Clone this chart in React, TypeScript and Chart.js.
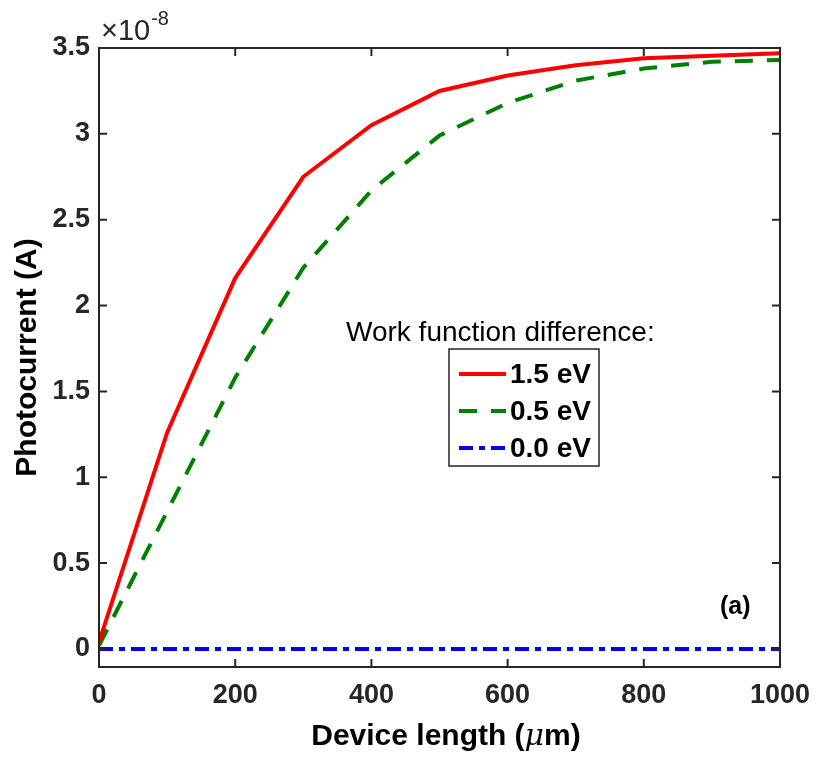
import React, { useEffect, useRef } from "react";
import { Chart, registerables } from "chart.js";

Chart.register(...registerables);

const deviceLength = [0, 100, 200, 300, 400, 500, 600, 700, 800, 900, 1000];
const current15 = [0.04, 1.26, 2.16, 2.75, 3.05, 3.25, 3.34, 3.40, 3.44, 3.455, 3.47];
const current05 = [0.02, 0.80, 1.58, 2.22, 2.67, 2.99, 3.18, 3.31, 3.38, 3.42, 3.43];
const current00 = [0, 0, 0, 0, 0, 0, 0, 0, 0, 0, 0];
const seriesLabels = ["1.5 eV", "0.5 eV", "0.0 eV"];
const yTicks = [0, 0.5, 1, 1.5, 2, 2.5, 3, 3.5];
const xTicks = [0, 200, 400, 600, 800, 1000];

const AXIS = "#262626";
const COLORS = ["#ff0000", "#008000", "#0000ff"];
const DASHES: number[][] = [[], [18, 14], [14, 6, 6, 6]];

const framePlugin = {
  id: "framePlugin",
  afterDraw(chart: any) {
    const { ctx, chartArea: a, scales } = chart;
    const xs = scales.x;
    const ys = scales.y;
    ctx.save();
    // frame
    ctx.strokeStyle = AXIS;
    ctx.lineWidth = 2;
    ctx.setLineDash([]);
    ctx.strokeRect(a.left, a.top, a.right - a.left, a.bottom - a.top);
    // inward ticks
    const tl = 8;
    ctx.beginPath();
    xTicks.forEach((v) => {
      const px = xs.getPixelForValue(v);
      ctx.moveTo(px, a.bottom);
      ctx.lineTo(px, a.bottom - tl);
      ctx.moveTo(px, a.top);
      ctx.lineTo(px, a.top + tl);
    });
    yTicks.forEach((v) => {
      const py = ys.getPixelForValue(v);
      ctx.moveTo(a.left, py);
      ctx.lineTo(a.left + tl, py);
      ctx.moveTo(a.right, py);
      ctx.lineTo(a.right - tl, py);
    });
    ctx.stroke();

    // exponent
    ctx.fillStyle = AXIS;
    ctx.textBaseline = "alphabetic";
    ctx.textAlign = "left";
    ctx.font = "29px 'Liberation Sans', Arial, sans-serif";
    ctx.fillText("\u00d710", 101, 40);
    const w10 = ctx.measureText("\u00d710").width;
    ctx.font = "20px 'Liberation Sans', Arial, sans-serif";
    ctx.fillText("-8", 101 + w10 + 1, 25);

    // y title
    ctx.save();
    ctx.translate(28, (a.top + a.bottom) / 2);
    ctx.rotate(-Math.PI / 2);
    ctx.textAlign = "center";
    ctx.textBaseline = "middle";
    ctx.fillStyle = "#000000";
    ctx.font = "bold 30px 'Liberation Sans', Arial, sans-serif";
    ctx.fillText("Photocurrent (A)", 0, 0);
    ctx.restore();

    // x title with italic mu
    ctx.fillStyle = "#000000";
    ctx.textBaseline = "alphabetic";
    const p1 = "Device length (";
    const p2 = "\u03bc";
    const p3 = "m)";
    const fb = "bold 30px 'Liberation Sans', Arial, sans-serif";
    const fi = "italic 30px 'DejaVu Serif', serif";
    ctx.font = fb;
    const w1 = ctx.measureText(p1).width;
    const w3 = ctx.measureText(p3).width;
    ctx.font = fi;
    const w2 = ctx.measureText(p2).width;
    const total = w1 + w2 + w3;
    const x0 = 446 - total / 2;
    const yb = 745;
    ctx.textAlign = "left";
    ctx.font = fb;
    ctx.fillText(p1, x0, yb);
    ctx.font = fi;
    ctx.fillText(p2, x0 + w1, yb);
    ctx.font = fb;
    ctx.fillText(p3, x0 + w1 + w2, yb);

    // (a) label
    ctx.fillStyle = "#000000";
    ctx.font = "bold 25px 'Liberation Sans', Arial, sans-serif";
    ctx.fillText("(a)", 720, 614);

    // legend
    ctx.font = "28px 'Liberation Sans', Arial, sans-serif";
    ctx.fillStyle = "#000000";
    ctx.textBaseline = "middle";
    ctx.fillText("Work function difference:", 346, 333);
    ctx.fillStyle = "#ffffff";
    ctx.fillRect(449, 349, 150, 117);
    ctx.strokeStyle = AXIS;
    ctx.lineWidth = 1.5;
    ctx.strokeRect(449, 349, 150, 117);
    const rows = [374, 411, 448];
    ctx.font = "bold 28px 'Liberation Sans', Arial, sans-serif";
    seriesLabels.forEach((lab, i) => {
      ctx.strokeStyle = COLORS[i];
      ctx.lineWidth = 4;
      ctx.setLineDash(DASHES[i]);
      ctx.beginPath();
      ctx.moveTo(459, rows[i]);
      ctx.lineTo(506, rows[i]);
      ctx.stroke();
      ctx.setLineDash([]);
      ctx.fillStyle = "#000000";
      ctx.fillText(lab, 510, rows[i] + 1);
    });
    ctx.restore();
  },
};

export default function App() {
  const ref = useRef<HTMLCanvasElement>(null);
  useEffect(() => {
    if (!ref.current) return;
    const mk = (vals: number[]) => deviceLength.map((x, i) => ({ x, y: vals[i] }));
    const all = [current15, current05, current00];
    const chart = new Chart(ref.current, {
      type: "line",
      data: {
        datasets: all.map((vals, i) => ({
          label: seriesLabels[i],
          data: mk(vals),
          borderColor: COLORS[i],
          backgroundColor: COLORS[i],
          borderWidth: 4,
          borderDash: DASHES[i],
          pointRadius: 0,
          tension: 0,
          fill: false,
        })),
      },
      options: {
        animation: false,
        responsive: false,
        maintainAspectRatio: false,
        layout: { padding: { left: 0, right: 34, top: 48, bottom: 0 } },
        plugins: { legend: { display: false }, tooltip: { enabled: false } },
        scales: {
          x: {
            type: "linear",
            min: 0,
            max: 1000,
            grid: { display: false, drawTicks: false, tickLength: 0 },
            border: { display: false },
            afterBuildTicks: (s: any) => {
              s.ticks = xTicks.map((v) => ({ value: v }));
            },
            afterFit: (s: any) => {
              s.height = 90;
              s.paddingLeft = 0;
              s.paddingRight = 0;
            },
            ticks: {
              padding: 12,
              color: AXIS,
              font: { family: "'Liberation Sans', Arial, sans-serif", size: 27, weight: "bold" },
              maxRotation: 0,
              callback: (v: any) => String(v),
            },
          },
          y: {
            type: "linear",
            min: -0.105,
            max: 3.5,
            grid: { display: false, drawTicks: false, tickLength: 0 },
            border: { display: false },
            afterBuildTicks: (s: any) => {
              s.ticks = yTicks.map((v) => ({ value: v }));
            },
            afterFit: (s: any) => {
              s.width = 99;
              s.paddingTop = 0;
              s.paddingBottom = 0;
            },
            ticks: {
              padding: 9,
              color: AXIS,
              font: { family: "'Liberation Sans', Arial, sans-serif", size: 27, weight: "bold" },
              callback: (v: any) => String(v),
            },
          },
        },
      },
      plugins: [framePlugin],
    });
    return () => chart.destroy();
  }, []);
  return (
    <div style={{ position: "fixed", left: 0, top: 0, width: 814, height: 757, background: "#fff" }}>
      <canvas ref={ref} width={814} height={757} style={{ display: "block" }} />
    </div>
  );
}
